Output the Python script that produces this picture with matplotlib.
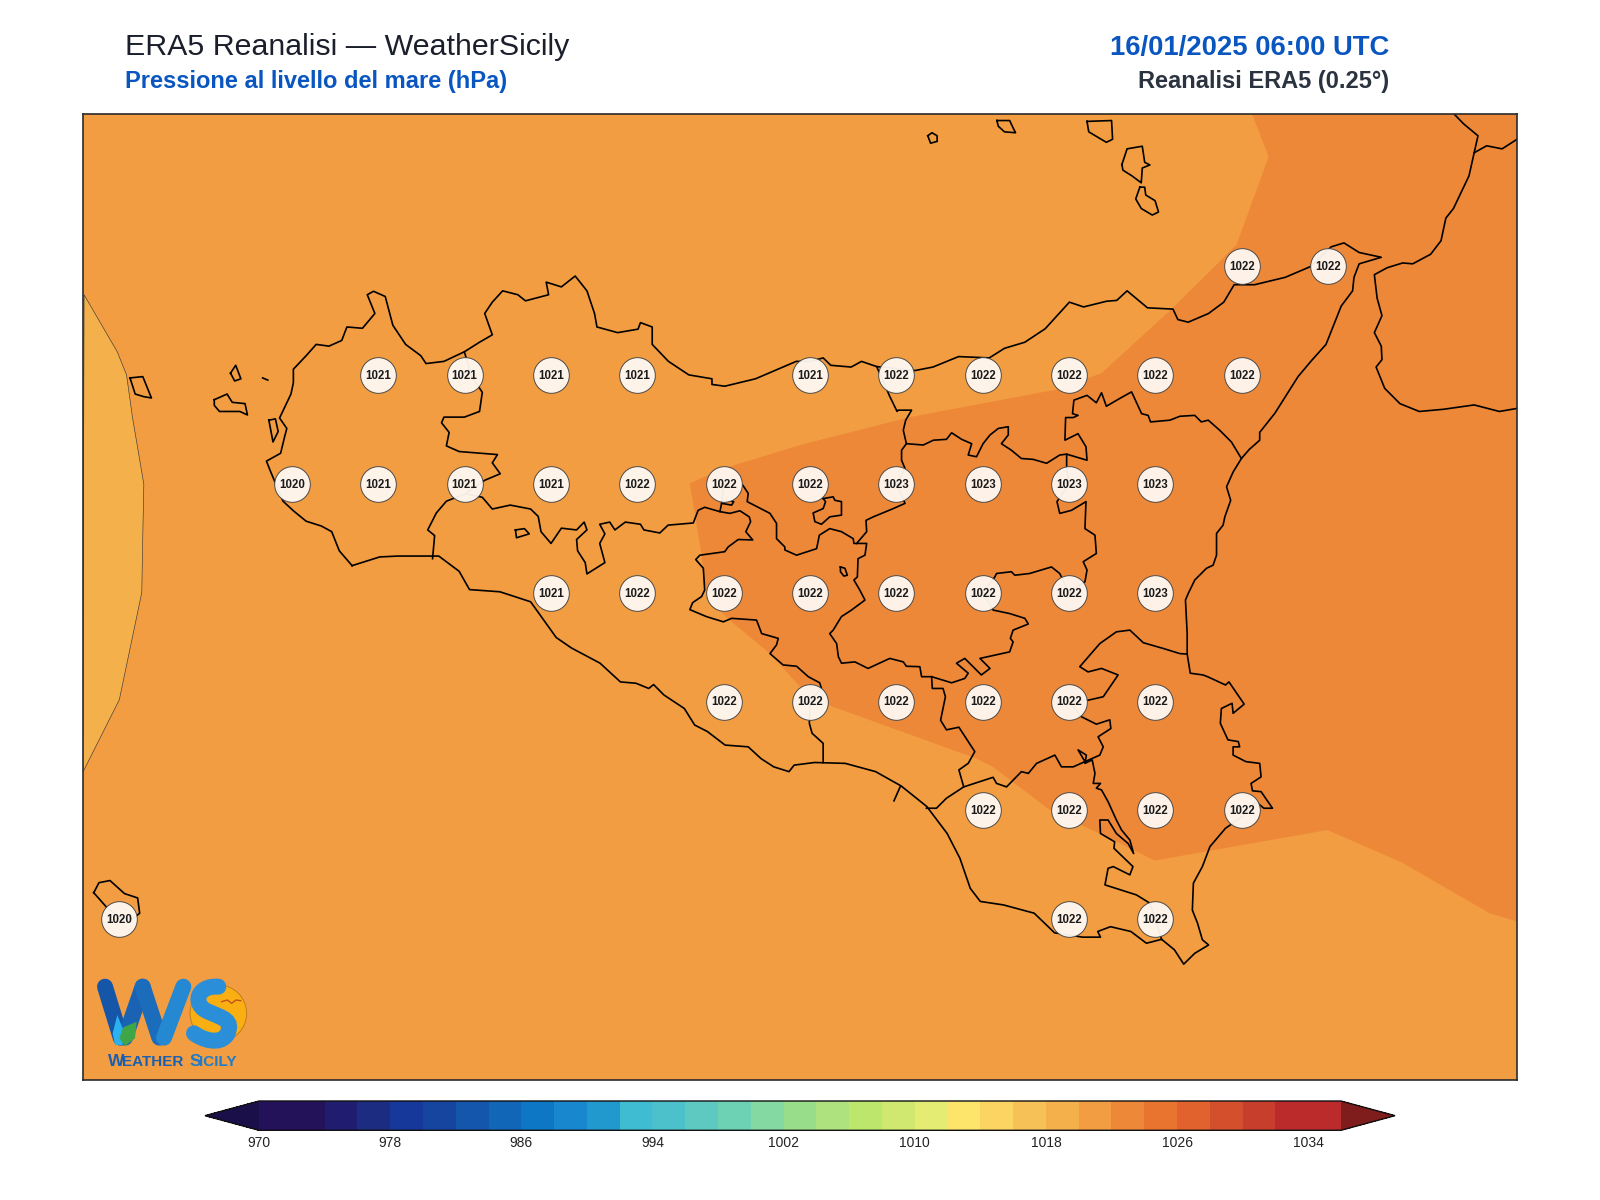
import matplotlib
matplotlib.use("Agg")
import matplotlib.pyplot as plt
from matplotlib.cm import ScalarMappable
from matplotlib.colors import BoundaryNorm, ListedColormap
from matplotlib.patches import Circle, PathPatch, Polygon
from matplotlib.path import Path

plt.rcParams["font.family"] = ["Liberation Sans", "DejaVu Sans"]

# colour scale, hPa
levels = list(range(970, 1038, 2))
level_colors = [
    "#231159", "#231159", "#201c70", "#1c2c80", "#15389a", "#16459f", "#1556ad", "#1266b7",
    "#0d77c6", "#1887cd", "#2299ce", "#3fbbd2", "#4cc1cb", "#5ec9c0", "#6dd2b3", "#84d9a3",
    "#98dd8a", "#ade27e", "#bde66c", "#d0e86f", "#e4ec73", "#fde46b", "#fcd461", "#f6c258",
    "#f4b04a", "#f29d41", "#ed8839", "#e87430", "#e1622c", "#d4502c", "#c83e2c", "#bb2b2c",
    "#bb2b2c",
]
tick_values = [970, 978, 986, 994, 1002, 1010, 1018, 1026, 1034]

# map extent, degrees
lon_min, lon_max = 11.894, 16.047
lat_min, lat_max = 36.381, 38.599

# grid point values
point_lon = [15.25, 15.5,
             12.75, 13.0, 13.25, 13.5, 14.0, 14.25, 14.5, 14.75, 15.0, 15.25,
             12.5, 12.75, 13.0, 13.25, 13.5, 13.75, 14.0, 14.25, 14.5, 14.75, 15.0,
             13.25, 13.5, 13.75, 14.0, 14.25, 14.5, 14.75, 15.0,
             13.75, 14.0, 14.25, 14.5, 14.75, 15.0,
             14.5, 14.75, 15.0, 15.25,
             12.0, 14.75, 15.0]
point_lat = [38.25, 38.25,
             38.0, 38.0, 38.0, 38.0, 38.0, 38.0, 38.0, 38.0, 38.0, 38.0,
             37.75, 37.75, 37.75, 37.75, 37.75, 37.75, 37.75, 37.75, 37.75, 37.75, 37.75,
             37.5, 37.5, 37.5, 37.5, 37.5, 37.5, 37.5, 37.5,
             37.25, 37.25, 37.25, 37.25, 37.25, 37.25,
             37.0, 37.0, 37.0, 37.0,
             36.75, 36.75, 36.75]
point_val = [1022, 1022,
             1021, 1021, 1021, 1021, 1021, 1022, 1022, 1022, 1022, 1022,
             1020, 1021, 1021, 1021, 1022, 1022, 1022, 1023, 1023, 1023, 1023,
             1021, 1022, 1022, 1022, 1022, 1022, 1022, 1023,
             1022, 1022, 1022, 1022, 1022, 1022,
             1022, 1022, 1022, 1022,
             1020, 1022, 1022]

# pressure bands (lon, lat)
band_1018 = [(11.898, 38.184), (11.994, 38.053), (12.021, 38.000), (12.038, 37.903), (12.071, 37.749),
             (12.068, 37.631), (12.065, 37.500), (12.0, 37.254), (11.894, 37.087)]
band_1022 = [(15.280, 38.599), (15.328, 38.501), (15.235, 38.299), (15.051, 38.154), (14.844, 38.004),
             (14.718, 37.967), (14.289, 37.903), (13.972, 37.839), (13.749, 37.785),
             (13.652, 37.751), (13.686, 37.586), (13.693, 37.529), (13.708, 37.483), (13.773, 37.433),
             (13.884, 37.360), (13.971, 37.284), (14.053, 37.242), (14.482, 37.119), (14.530, 37.100),
             (14.694, 37.001), (14.878, 36.932), (14.998, 36.885), (15.498, 36.955), (15.710, 36.882),
             (15.968, 36.764), (16.047, 36.745), (16.047, 38.599)]

# coastlines
sicily_coast = [
    (12.674, 37.562), (12.637, 37.596), (12.615, 37.640), (12.585, 37.653), (12.541, 37.664), (12.504, 37.688),
    (12.474, 37.710), (12.437, 37.780), (12.426, 37.802), (12.467, 37.820), (12.479, 37.859), (12.485, 37.877),
    (12.464, 37.901), (12.497, 37.956), (12.504, 37.982), (12.504, 38.013), (12.541, 38.044), (12.570, 38.070),
    (12.607, 38.066), (12.644, 38.079), (12.659, 38.110), (12.704, 38.107), (12.740, 38.141), (12.718, 38.184),
    (12.736, 38.192), (12.770, 38.180), (12.792, 38.114), (12.829, 38.070), (12.873, 38.044), (12.888, 38.026),
    (12.940, 38.031), (12.999, 38.053), (13.043, 38.075), (13.080, 38.092), (13.058, 38.141), (13.080, 38.167),
    (13.110, 38.193), (13.154, 38.184), (13.176, 38.170), (13.243, 38.184), (13.236, 38.213), (13.280, 38.202),
    (13.320, 38.227), (13.354, 38.193), (13.376, 38.141), (13.383, 38.110), (13.443, 38.097), (13.502, 38.105),
    (13.509, 38.120), (13.543, 38.110), (13.543, 38.070), (13.590, 38.031), (13.649, 38.000), (13.716, 37.991),
    (13.716, 37.978), (13.753, 37.974), (13.842, 37.991), (13.960, 38.031), (14.001, 38.031), (14.038, 38.039),
    (14.060, 38.022), (14.119, 38.018), (14.149, 38.031), (14.193, 38.019), (14.304, 38.010), (14.356, 38.018),
    (14.430, 38.042), (14.519, 38.039), (14.563, 38.061), (14.622, 38.075), (14.681, 38.106), (14.751, 38.167),
    (14.792, 38.156), (14.858, 38.169), (14.888, 38.171), (14.918, 38.193), (14.977, 38.154), (15.051, 38.151),
    (15.065, 38.127), (15.095, 38.121), (15.154, 38.141), (15.198, 38.167), (15.228, 38.207), (15.287, 38.207),
    (15.376, 38.224), (15.450, 38.249), (15.509, 38.294), (15.546, 38.303), (15.590, 38.281), (15.654, 38.270),
    (15.590, 38.255), (15.575, 38.224), (15.571, 38.193), (15.538, 38.158), (15.494, 38.070), (15.450, 38.031),
    (15.413, 37.996), (15.346, 37.912), (15.302, 37.868), (15.302, 37.850), (15.272, 37.829), (15.249, 37.808),
    (15.225, 37.777), (15.206, 37.743), (15.218, 37.712), (15.201, 37.674), (15.196, 37.655), (15.177, 37.636),
    (15.177, 37.586), (15.167, 37.563), (15.148, 37.556), (15.114, 37.529), (15.095, 37.498), (15.087, 37.483),
    (15.092, 37.406), (15.092, 37.359), (15.101, 37.315), (15.138, 37.311), (15.151, 37.307), (15.203, 37.288),
    (15.213, 37.295), (15.257, 37.244), (15.225, 37.223), (15.222, 37.246), (15.191, 37.234), (15.188, 37.200),
    (15.210, 37.162), (15.240, 37.158), (15.244, 37.146), (15.225, 37.146), (15.225, 37.127), (15.262, 37.112),
    (15.302, 37.108), (15.306, 37.077), (15.277, 37.062), (15.281, 37.045), (15.306, 37.043), (15.339, 37.005),
    (15.314, 37.005), (15.291, 37.020), (15.252, 36.986), (15.203, 36.959), (15.158, 36.917), (15.136, 36.871),
    (15.110, 36.833), (15.107, 36.771), (15.122, 36.741), (15.136, 36.703), (15.154, 36.691), (15.114, 36.672),
    (15.082, 36.647), (15.055, 36.680), (15.018, 36.704), (14.974, 36.695), (14.929, 36.722), (14.870, 36.733),
    (14.833, 36.722), (14.841, 36.709), (14.789, 36.709), (14.708, 36.719), (14.649, 36.764), (14.560, 36.783),
    (14.493, 36.791), (14.464, 36.821), (14.434, 36.890), (14.397, 36.947), (14.338, 37.009), (14.264, 37.056),
    (14.190, 37.089), (14.102, 37.108), (14.013, 37.110), (13.954, 37.104), (13.939, 37.089), (13.895, 37.100),
    (13.858, 37.119), (13.821, 37.146), (13.754, 37.150), (13.703, 37.181), (13.666, 37.196), (13.636, 37.234),
    (13.577, 37.265), (13.547, 37.289), (13.533, 37.280), (13.496, 37.292), (13.451, 37.295), (13.392, 37.338),
    (13.309, 37.373), (13.265, 37.397), (13.191, 37.479), (13.102, 37.502), (13.014, 37.507), (12.984, 37.549),
    (12.925, 37.584), (12.807, 37.584), (12.754, 37.582), (12.674, 37.562)]
calabria_coast = [
    (15.866, 38.598), (15.893, 38.576), (15.934, 38.549), (15.923, 38.510), (15.908, 38.457), (15.863, 38.382),
    (15.841, 38.360), (15.827, 38.308), (15.797, 38.277), (15.745, 38.255), (15.716, 38.257), (15.671, 38.246),
    (15.634, 38.230), (15.642, 38.176), (15.656, 38.136), (15.634, 38.097), (15.654, 38.066), (15.656, 38.035),
    (15.639, 38.018), (15.664, 37.969), (15.708, 37.934), (15.764, 37.916), (15.834, 37.921), (15.923, 37.931),
    (15.996, 37.916), (16.047, 37.923)]
calabria_border = [(15.923, 38.510), (15.959, 38.526), (16.004, 38.519), (16.047, 38.541)]

# islands
alicudi = [(14.341, 38.549), (14.353, 38.556), (14.368, 38.549), (14.368, 38.536), (14.349, 38.532), (14.341, 38.549)]
filicudi = [(14.541, 38.584), (14.578, 38.584), (14.588, 38.567), (14.595, 38.556), (14.563, 38.558), (14.545, 38.571), (14.541, 38.584)]
salina = [(14.802, 38.582), (14.873, 38.584), (14.876, 38.541), (14.858, 38.534), (14.807, 38.558), (14.802, 38.582)]
lipari = [(14.903, 38.483), (14.918, 38.519), (14.962, 38.525), (14.969, 38.488), (14.984, 38.482), (14.962, 38.475),
          (14.959, 38.441), (14.932, 38.457), (14.906, 38.470), (14.903, 38.483)]
vulcano = [(14.955, 38.431), (14.969, 38.431), (14.972, 38.413), (14.999, 38.400), (15.009, 38.374), (14.991, 38.367),
           (14.959, 38.382), (14.943, 38.404), (14.955, 38.431)]
marettimo = [(12.031, 37.993), (12.068, 37.996), (12.093, 37.947), (12.071, 37.950), (12.046, 37.956), (12.031, 37.993)]
levanzo = [(12.322, 38.004), (12.337, 38.022), (12.352, 37.991), (12.334, 37.986), (12.322, 38.004)]
favignana = [(12.275, 37.943), (12.312, 37.956), (12.327, 37.937), (12.364, 37.934), (12.371, 37.908), (12.349, 37.916),
             (12.290, 37.916), (12.275, 37.930), (12.275, 37.943)]
speck = [(12.415, 37.993), (12.430, 37.988)]
stagnone = [(12.433, 37.896), (12.445, 37.846), (12.460, 37.870), (12.452, 37.899), (12.433, 37.896)]
pantelleria = [(11.926, 36.811), (11.941, 36.834), (11.973, 36.839), (12.015, 36.809), (12.053, 36.799), (12.059, 36.764),
               (12.024, 36.741), (11.965, 36.776), (11.926, 36.811)]
lake_east = [(14.088, 37.559), (14.101, 37.556), (14.108, 37.540), (14.098, 37.538), (14.088, 37.548), (14.088, 37.559)]
lake_west = [(13.147, 37.644), (13.173, 37.647), (13.187, 37.635), (13.150, 37.626), (13.147, 37.644)]

# province borders
border_trapani = [
    (12.999, 38.053), (13.021, 37.996), (13.051, 37.960), (13.043, 37.916), (12.999, 37.903), (12.940, 37.903),
    (12.933, 37.890), (12.955, 37.868), (12.947, 37.837), (12.984, 37.824), (13.095, 37.817), (13.080, 37.798),
    (13.103, 37.773), (13.058, 37.758), (13.002, 37.727), (12.947, 37.710), (12.918, 37.683), (12.893, 37.644),
    (12.913, 37.631), (12.907, 37.578)]
border_agrigento = [
    (13.002, 37.727), (13.051, 37.719), (13.080, 37.692), (13.132, 37.701), (13.191, 37.692), (13.213, 37.675),
    (13.221, 37.640), (13.250, 37.613), (13.280, 37.648), (13.324, 37.644), (13.346, 37.662), (13.354, 37.644),
    (13.324, 37.622), (13.327, 37.596), (13.349, 37.569), (13.354, 37.543), (13.406, 37.569), (13.391, 37.613),
    (13.406, 37.635), (13.391, 37.657), (13.420, 37.662), (13.435, 37.644), (13.465, 37.662), (13.509, 37.657),
    (13.519, 37.644), (13.565, 37.637), (13.589, 37.655), (13.662, 37.660), (13.676, 37.689), (13.695, 37.696),
    (13.739, 37.686), (13.768, 37.682), (13.797, 37.688), (13.824, 37.674), (13.828, 37.663), (13.814, 37.640),
    (13.834, 37.621), (13.792, 37.622), (13.763, 37.605), (13.753, 37.594), (13.681, 37.586), (13.669, 37.576),
    (13.691, 37.556), (13.695, 37.506), (13.686, 37.491), (13.660, 37.477), (13.652, 37.461), (13.700, 37.445),
    (13.749, 37.433), (13.773, 37.441), (13.845, 37.437), (13.860, 37.406), (13.908, 37.395), (13.903, 37.380),
    (13.884, 37.360), (13.922, 37.334), (13.961, 37.331), (13.995, 37.307), (14.028, 37.293), (14.033, 37.280),
    (14.0, 37.25), (13.998, 37.200), (14.006, 37.177), (14.038, 37.154), (14.038, 37.110)]
border_spur = [(13.739, 37.686), (13.744, 37.705), (13.75, 37.75)]
border_spur_loop = [(13.744, 37.705), (13.773, 37.701), (13.779, 37.709), (13.760, 37.712)]
border_palermo = [(14.193, 38.019), (14.230, 37.952), (14.252, 37.916), (14.255, 37.919), (14.294, 37.919), (14.277, 37.896),
                  (14.270, 37.873), (14.279, 37.842), (14.265, 37.827), (14.265, 37.804), (14.275, 37.785), (14.25, 37.75),
                  (14.275, 37.705), (14.241, 37.693), (14.183, 37.674), (14.162, 37.666), (14.164, 37.640), (14.135, 37.613)]
border_centre = [
    (13.805, 37.747), (13.821, 37.728), (13.818, 37.709), (13.884, 37.682), (13.903, 37.659), (13.903, 37.624),
    (13.927, 37.605), (13.927, 37.598), (13.961, 37.586), (14.019, 37.601), (14.027, 37.632), (14.057, 37.647),
    (14.091, 37.640), (14.125, 37.624), (14.127, 37.613), (14.164, 37.613), (14.159, 37.586), (14.139, 37.578),
    (14.137, 37.536), (14.127, 37.529), (14.144, 37.506), (14.159, 37.483), (14.120, 37.460), (14.091, 37.445),
    (14.067, 37.414), (14.057, 37.406), (14.077, 37.383), (14.082, 37.353), (14.091, 37.338), (14.130, 37.341),
    (14.168, 37.326), (14.231, 37.349), (14.270, 37.341), (14.279, 37.331), (14.318, 37.330), (14.323, 37.307),
    (14.352, 37.307), (14.410, 37.293), (14.448, 37.303), (14.458, 37.315), (14.424, 37.338), (14.448, 37.349),
    (14.496, 37.311), (14.521, 37.326), (14.492, 37.349), (14.578, 37.364), (14.588, 37.387), (14.580, 37.395),
    (14.588, 37.414), (14.632, 37.428), (14.622, 37.441), (14.578, 37.452), (14.530, 37.460), (14.5, 37.5),
    (14.535, 37.536), (14.540, 37.544), (14.583, 37.548), (14.593, 37.540), (14.636, 37.544), (14.699, 37.559),
    (14.723, 37.544), (14.75, 37.5), (14.796, 37.525), (14.802, 37.552), (14.791, 37.571), (14.829, 37.590),
    (14.825, 37.632), (14.796, 37.647), (14.799, 37.709), (14.757, 37.689), (14.723, 37.682), (14.715, 37.709),
    (14.75, 37.75), (14.743, 37.787), (14.743, 37.818), (14.802, 37.804), (14.799, 37.835), (14.776, 37.865),
    (14.738, 37.850), (14.740, 37.902), (14.762, 37.902), (14.776, 37.907), (14.760, 37.911), (14.764, 37.942),
    (14.802, 37.953), (14.829, 37.936), (14.844, 37.959), (14.858, 37.928), (14.897, 37.946), (14.931, 37.961),
    (14.960, 37.911), (14.979, 37.907), (14.986, 37.892), (15.042, 37.896), (15.071, 37.905), (15.114, 37.907),
    (15.133, 37.892), (15.153, 37.896), (15.186, 37.873), (15.220, 37.846), (15.249, 37.808)]
border_enna = [
    (14.279, 37.842), (14.328, 37.839), (14.357, 37.850), (14.395, 37.852), (14.410, 37.867), (14.439, 37.852),
    (14.468, 37.842), (14.458, 37.816), (14.482, 37.812), (14.501, 37.842), (14.521, 37.862), (14.545, 37.877),
    (14.574, 37.881), (14.574, 37.862), (14.554, 37.842), (14.583, 37.827), (14.612, 37.808), (14.646, 37.806),
    (14.685, 37.797), (14.723, 37.816), (14.743, 37.818)]
loop_nebrodi = [(14.038, 37.716), (14.067, 37.720), (14.072, 37.712), (14.091, 37.709), (14.091, 37.678), (14.057, 37.674),
                (14.033, 37.657), (14.014, 37.663), (14.009, 37.683), (14.038, 37.693), (14.045, 37.709), (14.038, 37.716)]
border_caltanissetta = [(14.352, 37.307), (14.354, 37.280), (14.385, 37.280), (14.392, 37.261), (14.378, 37.207), (14.395, 37.185),
                        (14.431, 37.191), (14.477, 37.135), (14.458, 37.108), (14.431, 37.093), (14.445, 37.054), (14.395, 37.028),
                        (14.366, 37.005), (14.337, 37.005)]
border_ragusa = [(14.445, 37.054), (14.530, 37.076), (14.540, 37.062), (14.569, 37.054), (14.612, 37.089), (14.632, 37.085),
                 (14.656, 37.108), (14.709, 37.127), (14.728, 37.100), (14.762, 37.100), (14.796, 37.112), (14.776, 37.139),
                 (14.800, 37.127), (14.796, 37.108), (14.817, 37.116), (14.825, 37.085), (14.820, 37.062), (14.841, 37.062),
                 (14.829, 37.051), (14.844, 37.047), (14.863, 37.020), (14.887, 36.978), (14.902, 36.955), (14.926, 36.932),
                 (14.937, 36.901), (14.921, 36.924), (14.887, 36.947), (14.863, 36.978), (14.839, 36.978), (14.841, 36.947),
                 (14.882, 36.928), (14.880, 36.913), (14.935, 36.871), (14.926, 36.852), (14.878, 36.871), (14.863, 36.867),
                 (14.854, 36.829), (14.945, 36.806), (14.984, 36.787), (15.0, 36.75), (15.018, 36.704)]
border_siracusa = [(14.796, 37.112), (14.839, 37.127), (14.849, 37.146), (14.834, 37.169), (14.871, 37.188), (14.868, 37.208),
                   (14.829, 37.198), (14.786, 37.215), (14.75, 37.25), (14.805, 37.253), (14.849, 37.261), (14.892, 37.311),
                   (14.844, 37.326), (14.805, 37.318), (14.781, 37.330), (14.839, 37.383), (14.887, 37.410), (14.926, 37.414),
                   (14.965, 37.385), (15.022, 37.372), (15.071, 37.360), (15.092, 37.359)]
coast_tick = [(14.262, 37.056), (14.243, 37.022)]

coast_lines = [sicily_coast, calabria_coast, calabria_border, alicudi, filicudi, salina, lipari, vulcano, marettimo,
               levanzo, favignana, speck, stagnone, pantelleria, lake_east, lake_west, border_trapani, border_agrigento,
               border_spur, border_spur_loop, border_palermo, border_centre, border_enna, loop_nebrodi,
               border_caltanissetta, border_ragusa, border_siracusa, coast_tick]

cmap = ListedColormap(level_colors)
cmap.set_under("#1b0f4a")
cmap.set_over("#7f1c1c")
norm = BoundaryNorm(levels, cmap.N)

fig = plt.figure(figsize=(16, 12), dpi=100)
ax = fig.add_axes([82.7 / 1600, 1 - 1080 / 1200, (1517 - 82.7) / 1600, (1080 - 114) / 1200])
ax.set_xlim(lon_min, lon_max)
ax.set_ylim(lat_min, lat_max)
ax.set_xticks([])
ax.set_yticks([])
for s in ax.spines.values():
    s.set_linewidth(1.2)
    s.set_color("#2b2b2b")
    s.set_zorder(10)

ax.set_facecolor(cmap(norm(1021)))
ax.fill(*zip(*band_1022), color=cmap(norm(1023)), lw=0, zorder=1)
ax.fill(*zip(*band_1018), facecolor=cmap(norm(1019)), edgecolor="#3a3a3a", lw=0.45, zorder=1)

for line in coast_lines:
    ax.plot(*zip(*line), color="black", lw=1.2, solid_joinstyle="round", zorder=2)

ax.scatter(point_lon, point_lat, s=660, facecolor="#fff9f3", edgecolor="#444444", linewidth=0.7, alpha=0.95, zorder=3)
for lon, lat, val in zip(point_lon, point_lat, point_val):
    ax.text(lon, lat - 0.002, str(val), ha="center", va="center", fontsize=8.3, fontweight="bold",
            color="#1a1a1a", zorder=4)

# titles
fig.text(124.5 / 1600, 1 - 55 / 1200, "ERA5 Reanalisi — WeatherSicily", fontsize=21.9, color="#1a1f2b", va="baseline")
fig.text(124.5 / 1600, 1 - 88 / 1200, "Pressione al livello del mare (hPa)", fontsize=17, fontweight="bold",
         color="#0a56c0", va="baseline")
fig.text(1389 / 1600, 1 - 54.5 / 1200, "16/01/2025 06:00 UTC", fontsize=19.8, fontweight="bold", color="#0a56c0",
         ha="right", va="baseline")
fig.text(1389 / 1600, 1 - 88 / 1200, "Reanalisi ERA5 (0.25°)", fontsize=17, fontweight="bold", color="#2b3340",
         ha="right", va="baseline")

# colour bar, cax runs from tip to tip since the extensions are drawn inside it
cax = fig.add_axes([205 / 1600, 1 - 1130.3 / 1200, (1395 - 205) / 1600, 29.3 / 1200])
cb = fig.colorbar(ScalarMappable(norm=norm, cmap=cmap), cax=cax, orientation="horizontal", extend="both",
                  extendfrac=54 / 1081, ticks=tick_values)
cb.ax.set_xticklabels([str(v) for v in tick_values])
cb.ax.minorticks_off()
cb.ax.tick_params(which="both", length=0, labelsize=10, pad=4, colors="#222222")
cb.outline.set_linewidth(1.0)
cb.outline.set_edgecolor("#111111")

# logo, drawn on its own crop-sized axes
logo = fig.add_axes([90 / 1600, 1 - 1075 / 1200, 170 / 1600, 105 / 1200])
logo.set_xlim(0, 510)
logo.set_ylim(315, 0)
logo.axis("off")
logo.patch.set_alpha(0)
logo.add_patch(Circle((385, 130), 85, facecolor="#f9ae12", edgecolor="#b9761c", lw=0.6, zorder=1))
w_strokes = [((45, 50), (92, 203), "#1556a8"), ((105, 203), (158, 50), "#1a62b4"),
             ((158, 50), (208, 203), "#1c6cbc"), ((222, 203), (280, 50), "#2488d2")]
for (x0, y0), (x1, y1), c in w_strokes:
    logo.plot([x0, x1], [y0, y1], color=c, lw=11.5, solid_capstyle="round", zorder=2)
s_path = Path([(385, 50), (320, 45), (305, 105), (355, 125), (400, 145), (430, 150), (412, 192), (390, 228), (335, 208), (312, 190)],
              [Path.MOVETO, Path.CURVE4, Path.CURVE4, Path.CURVE4, Path.CURVE4, Path.CURVE4, Path.CURVE4, Path.CURVE4, Path.CURVE4, Path.CURVE4])
logo.add_patch(PathPatch(s_path, facecolor="none", edgecolor="#2a8ed8", lw=11.5, capstyle="round", zorder=3))
logo.add_patch(Polygon([(82, 135), (100, 180), (98, 225), (75, 225), (68, 190)], facecolor="#29b2ee", edgecolor="none", zorder=4))
logo.add_patch(Polygon([(140, 155), (135, 205), (105, 228), (88, 205), (100, 172)], facecolor="#3fa648", edgecolor="none", zorder=5))
logo.plot([395, 412, 425, 438, 452], [95, 90, 100, 90, 92], color="#c4521a", lw=1.0, zorder=5)
logo_blue = "#1a5fb0"
logo.text(53, 287, "W", fontsize=12.5, fontweight="bold", color=logo_blue, va="baseline")
logo.text(96, 287, "EATHER", fontsize=11, fontweight="bold", color=logo_blue, va="baseline")
logo.text(300, 287, "S", fontsize=12.5, fontweight="bold", color="#1f7cc8", va="baseline")
logo.text(327, 287, "ICILY", fontsize=11, fontweight="bold", color="#1f7cc8", va="baseline")

fig.savefig("out.png", dpi=100, facecolor="white")
